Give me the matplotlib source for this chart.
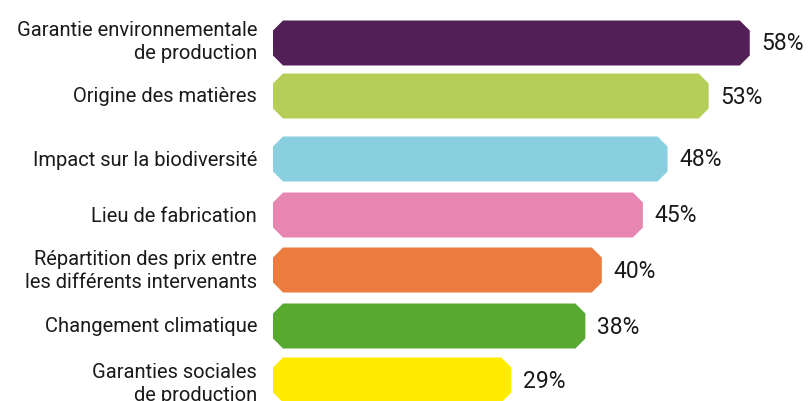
import matplotlib.pyplot as plt
from matplotlib.patches import Polygon

labels = ['Garantie environnementale\nde production', 'Origine des matières',
          'Impact sur la biodiversité', 'Lieu de fabrication',
          'Répartition des prix entre\nles différents intervenants',
          'Changement climatique', 'Garanties sociales\nde production']
values = [58, 53, 48, 45, 40, 38, 29]
colors = ['#521F57', '#B5CE57', '#8ACFE0', '#E886B2', '#EC7B3F', '#57A92F', '#FFEB00']

# layout (pixels)
W, H = 810, 401
x0 = 273.0
px_per_pct = 8.22
centers = [43, 96, 159, 215, 270, 326, 380]
bar_h = 45
cut = 10

plt.rcParams['font.family'] = ['Roboto', 'DejaVu Sans']

fig = plt.figure(figsize=(W / 100, H / 100), dpi=100)
ax = fig.add_axes([0, 0, 1, 1])
ax.set_xlim(-x0 / px_per_pct, (W - x0) / px_per_pct)
ax.set_ylim(H, 0)
ax.axis('off')

c = cut / px_per_pct
for i, (lab, v, col, yc) in enumerate(zip(labels, values, colors, centers)):
    t, b = yc - bar_h / 2, yc + bar_h / 2
    pts = [(0, t + cut), (c, t), (v - c, t), (v, t + cut),
           (v, b - cut), (v - c, b), (c, b), (0, b - cut)]
    ax.add_patch(Polygon(pts, closed=True, facecolor=col, edgecolor='none'))
    dy = -1 if i == 0 else (4 if i == len(labels) - 1 else 1)
    ax.text(-16 / px_per_pct, yc + dy, lab, ha='right', va='center', fontsize=14.5,
            color='#1a1a1a', linespacing=1.25)
    ax.text(v + 12 / px_per_pct, yc + 1, f'{v}%', ha='left', va='center', fontsize=16.5,
            color='#1a1a1a')

fig.savefig('out.png', dpi=100)
